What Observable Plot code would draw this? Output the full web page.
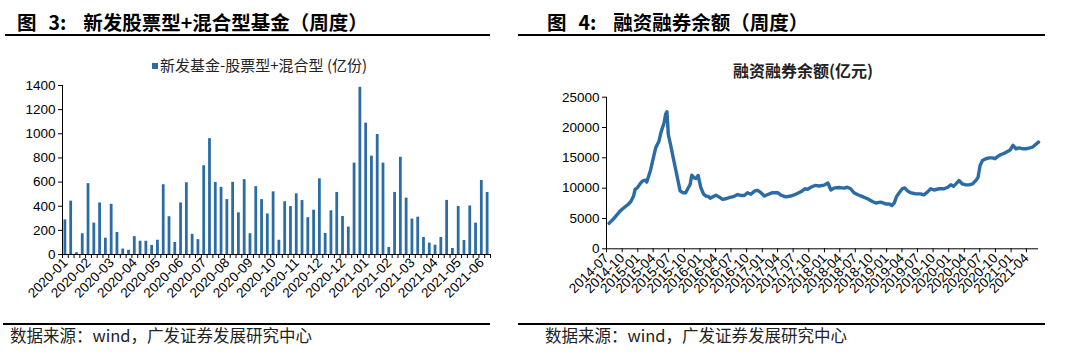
<!DOCTYPE html>
<html><head><meta charset="utf-8">
<script src="https://cdn.jsdelivr.net/npm/d3@7"></script>
<script src="https://cdn.jsdelivr.net/npm/@observablehq/plot@0.6"></script>
<style>
body{margin:0;background:#fff;width:1080px;height:361px;position:relative;overflow:hidden;font-family:"Noto Sans CJK SC",sans-serif;}
.abs{position:absolute;white-space:nowrap;}
.title{font-size:19.5px;font-weight:bold;line-height:20px;top:12px;color:#000;}
.title .n{margin-left:12px;}
.title .t{margin-left:17px;}
.hline{position:absolute;background:#000;}
.src{font-size:16.5px;line-height:17px;top:327px;color:#222;}
svg{overflow:visible;}
</style></head><body>
<div class="abs title" style="left:17px;">图<span class="n">3:</span><span class="t">新发股票型+混合型基金（周度）</span></div>
<div class="abs title" style="left:547px;">图<span class="n">4:</span><span class="t">融资融券余额（周度）</span></div>
<div class="hline" style="left:5px;width:485px;top:34px;height:2px;"></div>
<div class="hline" style="left:518px;width:527px;top:34px;height:2px;"></div>
<div class="hline" style="left:3px;width:487px;top:323px;height:1.5px;"></div>
<div class="hline" style="left:518px;width:527px;top:323px;height:1.5px;"></div>
<div class="abs src" style="left:10px;">数据来源：wind，广发证券发展研究中心</div>
<div class="abs src" style="left:545px;">数据来源：wind，广发证券发展研究中心</div>
<div class="abs" id="legend" style="left:152px;top:56px;font-size:15px;line-height:18px;color:#222;"><span style="display:inline-block;width:6px;height:6px;background:#2b6ca6;margin-right:2px;vertical-align:middle;position:relative;top:-1px;"></span><span id="legendText"></span></div>
<div class="abs" id="rtitle" style="left:803px;top:61px;font-size:16px;line-height:18px;font-weight:bold;color:#222;transform:translateX(-50%);"></div>
<div class="abs" id="left" style="left:0px;top:75px;"></div>
<div class="abs" id="right" style="left:540px;top:85px;"></div>
<script>
const BLUE = "#2b6ca6";
// ---- Figure 3: weekly new stock + hybrid fund issuance (亿份)
const fundSeriesName = "新发基金-股票型+混合型 (亿份)";
const fundValues = [287,442,15,172,587,260,427,135,416,182,45,35,148,110,110,75,118,578,313,100,
  427,594,167,123,735,960,597,556,455,598,345,620,172,562,455,336,519,118,437,397,
  503,447,305,367,627,174,362,514,315,227,757,1385,1088,815,994,757,58,514,805,467,
  294,309,141,94,77,141,448,50,398,116,402,260,613,514];
const fundTickLabels = ["2020-01","2020-02","2020-03","2020-04","2020-05","2020-06","2020-07","2020-08","2020-09","2020-10",
  "2020-11","2020-12","2020-12","2021-01","2021-02","2021-03","2021-04","2021-05","2021-06"];
const fundYTicks = [0,200,400,600,800,1000,1200,1400];

// ---- Figure 4: margin balance (亿元)
const marginTitle = "融资融券余额(亿元)";
const marginDates = ["2014-07-16","2014-07-30","2014-08-15","2014-08-31","2014-09-20","2014-10-13","2014-11-06","2014-11-21","2014-12-07","2014-12-16",
"2014-12-30","2015-01-15","2015-01-29","2015-02-14","2015-02-22","2015-03-04","2015-03-17","2015-04-02","2015-04-16","2015-05-05",
"2015-05-19","2015-06-04","2015-06-14","2015-06-21","2015-06-29","2015-07-12","2015-07-28","2015-08-17","2015-09-06","2015-09-22",
"2015-10-09","2015-10-22","2015-11-04","2015-11-14","2015-11-28","2015-12-09","2015-12-21","2016-01-06","2016-01-22","2016-02-05",
"2016-02-18","2016-03-01","2016-03-14","2016-04-03","2016-04-22","2016-05-12","2016-06-01","2016-06-20","2016-07-15","2016-08-08",
"2016-08-28","2016-09-17","2016-10-06","2016-10-26","2016-11-15","2016-12-04","2016-12-24","2017-01-13","2017-02-02","2017-03-02",
"2017-04-01","2017-04-20","2017-05-19","2017-06-17","2017-07-16","2017-08-15","2017-09-08","2017-09-24","2017-10-13","2017-11-06",
"2017-12-01","2017-12-30","2018-01-21","2018-02-08","2018-03-01","2018-03-27","2018-04-26","2018-05-15","2018-06-04","2018-06-23",
"2018-07-13","2018-08-12","2018-09-11","2018-10-10","2018-10-29","2018-11-28","2018-12-27","2019-01-16","2019-02-01","2019-02-15",
"2019-02-28","2019-03-14","2019-04-03","2019-04-17","2019-05-02","2019-05-22","2019-06-20","2019-07-19","2019-08-08","2019-08-28",
"2019-09-17","2019-10-06","2019-11-05","2019-12-04","2019-12-26","2020-01-13","2020-01-29","2020-02-12","2020-03-01","2020-03-21",
"2020-04-10","2020-04-29","2020-05-19","2020-06-08","2020-06-21","2020-07-03","2020-07-17","2020-08-06","2020-08-25","2020-09-15",
"2020-09-28","2020-10-13","2020-11-02","2020-11-22","2020-12-11","2020-12-27","2021-01-12","2021-01-30","2021-02-18","2021-03-08",
"2021-03-28","2021-04-16","2021-05-06","2021-05-25","2021-06-11"];
const marginValues = [4200,4600,5050,5600,6250,6800,7350,7800,8700,9800,
10100,10750,11200,11300,11000,11850,13000,15000,16650,17750,
19400,20750,22250,22600,18850,17200,15000,12300,9550,9250,
9250,9950,10600,12150,11700,11600,12100,10100,9000,8700,
8650,8350,8550,8850,8550,8150,8250,8450,8600,8950,
8800,8800,9250,9000,9500,9650,9250,8700,8950,9250,
9250,8850,8550,8700,9000,9400,9900,9800,10150,10450,
10350,10500,10850,9700,10050,10100,10000,10150,9900,9250,
8950,8600,8250,7800,7550,7700,7400,7400,7150,7550,
8600,9150,9900,10050,9600,9250,9050,9050,8900,9350,
9900,9700,9900,9900,10150,10550,10300,10700,11250,10700,
10550,10550,10700,11250,11800,13750,14550,14850,15000,15000,
14850,15200,15550,15750,16050,16300,17050,16500,16650,16500,
16500,16600,16750,17200,17600];
const marginTickLabels = ["2014-07","2014-10","2015-01","2015-04","2015-07","2015-10","2016-01","2016-04","2016-07","2016-10",
"2017-01","2017-04","2017-07","2017-10","2018-01","2018-04","2018-07","2018-10","2019-01","2019-04",
"2019-07","2019-10","2020-01","2020-04","2020-07","2020-10","2021-01","2021-04"];
const marginYTicks = [0,5000,10000,15000,20000,25000];
const marginXDomain = ["2014-07-01","2021-06-11"];

document.getElementById("legendText").textContent = fundSeriesName;
document.getElementById("rtitle").textContent = marginTitle;

const axisStyle = {fontFamily:"'Liberation Sans', Arial, sans-serif", fontSize:"13.5px", color:"#000", background:"transparent", overflow:"visible"};

const fundData = fundValues.map((v, i) => ({i, v}));
const fundLabelPos = fundTickLabels.map((_, k) => k * 4);
const leftChart = Plot.plot({
  width: 500, height: 235, marginLeft: 62, marginRight: 10, marginTop: 10, marginBottom: 56,
  style: axisStyle,
  x: {type: "linear", domain: [-0.5, fundValues.length - 0.5]},
  y: {domain: [0, 1400]},
  marks: [
    Plot.rectY(fundData, {x1: d => d.i - 0.24, x2: d => d.i + 0.24, y: "v", fill: BLUE}),
    Plot.ruleY([0], {stroke: "#000"}),
    Plot.ruleX([-0.5], {stroke: "#000"}),
    Plot.axisY({ticks: fundYTicks, tickSize: 4, tickPadding: 3, label: null, tickFormat: d => String(d)}),
    Plot.axisX({ticks: fundData.map(d => d.i - 0.5).concat([fundValues.length - 0.5]), tickSize: 4, tickFormat: () => "", label: null}),
    Plot.axisX({ticks: fundLabelPos, tickSize: 0, tickPadding: 6, tickRotate: -45, tickFormat: i => fundTickLabels[i / 4], label: null})
  ]
});
document.getElementById("left").appendChild(leftChart);

const marginData = marginDates.map((d, k) => ({date: new Date(d), value: marginValues[k]}));
const xDom = marginXDomain.map(d => new Date(d));
const rightChart = Plot.plot({
  width: 510, height: 222, marginLeft: 66, marginRight: 12, marginTop: 11.7, marginBottom: 58.7,
  style: axisStyle,
  x: {type: "utc", domain: xDom},
  y: {domain: [0, 25000]},
  marks: [
    Plot.ruleY([0], {stroke: "#000"}),
    Plot.ruleX([xDom[0]], {stroke: "#000"}),
    Plot.axisY({ticks: marginYTicks, tickSize: 4, tickPadding: 3, label: null, tickFormat: d => String(d)}),
    Plot.axisX({ticks: marginTickLabels.map(s => new Date(s + "-01")), tickSize: 4, tickPadding: 3, tickRotate: -45,
      tickFormat: d => d3.utcFormat("%Y-%m")(d), label: null}),
    Plot.lineY(marginData, {x: "date", y: "value", stroke: BLUE, strokeWidth: 3.4, strokeLinejoin: "round", strokeLinecap: "round"})
  ]
});
document.getElementById("right").appendChild(rightChart);
</script>
</body></html>
